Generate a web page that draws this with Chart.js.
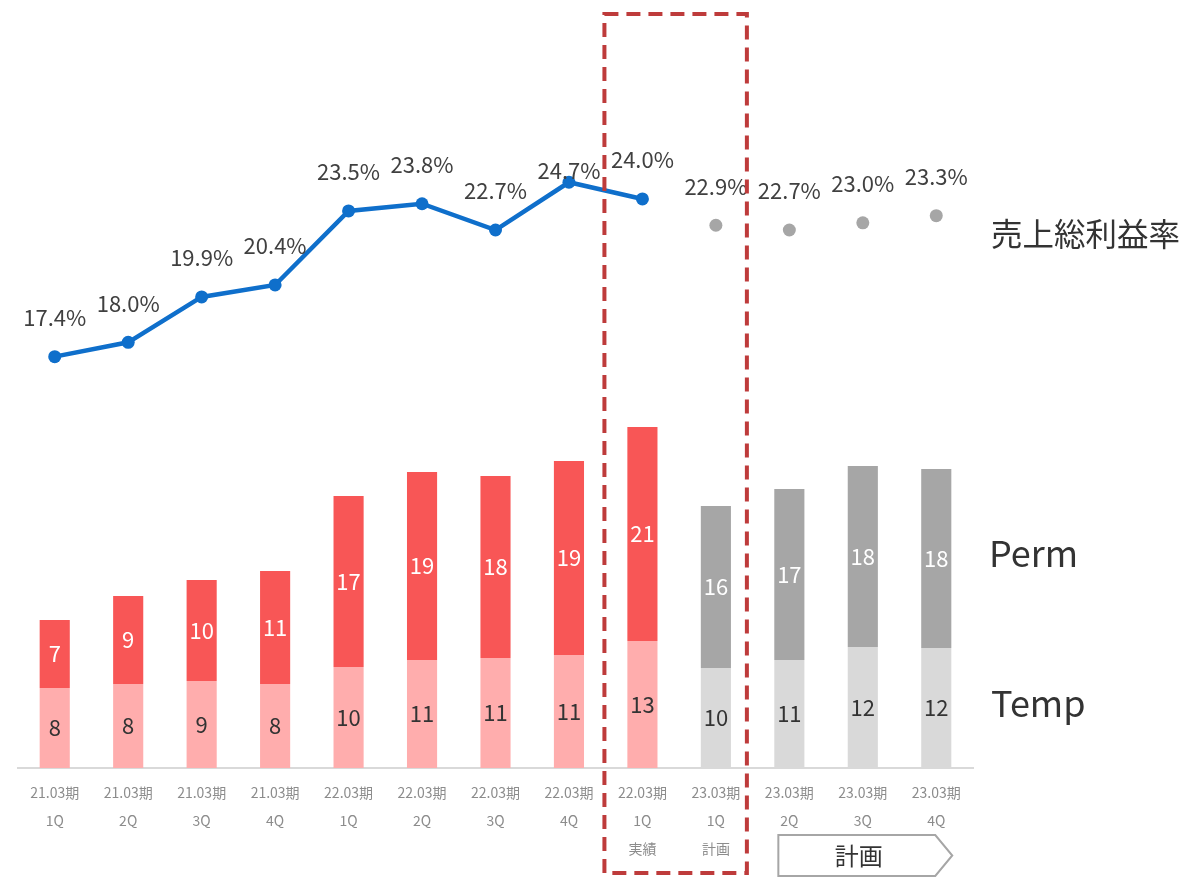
<!DOCTYPE html>
<html>
<head>
<meta charset="utf-8">
<script src="https://cdn.jsdelivr.net/npm/chart.js@4.4.1/dist/chart.umd.min.js"></script>
<style>
  html, body { margin: 0; padding: 0; background: #fff; }
  #wrap { width: 1184px; height: 885px; position: relative; }
</style>
</head>
<body>
<div id="wrap"><canvas id="chart"></canvas></div>
<script>
const periods = ['21.03期', '21.03期', '21.03期', '21.03期', '22.03期', '22.03期', '22.03期', '22.03期', '22.03期', '23.03期', '23.03期', '23.03期', '23.03期'];
const quarters = ['1Q', '2Q', '3Q', '4Q', '1Q', '2Q', '3Q', '4Q', '1Q', '1Q', '2Q', '3Q', '4Q'];
const notes = ['', '', '', '', '', '', '', '', '実績', '計画', '', '', ''];
const tempValues = [8.0, 8.4, 8.7, 8.4, 10.1, 10.8, 11.0, 11.3, 12.7, 10.0, 10.8, 12.1, 12.0];
const permValues = [6.8, 8.8, 10.1, 11.3, 17.1, 18.8, 18.2, 19.4, 21.4, 16.2, 17.1, 18.1, 17.9];
const rateActual = [17.4, 18.0, 19.9, 20.4, 23.5, 23.8, 22.7, 24.7, 24.0];
const ratePlan = [22.9, 22.7, 23.0, 23.3];

const nActual = rateActual.length;
const FONT = '"Noto Sans CJK JP", "Noto Sans", sans-serif';

const labels = periods.map((p, i) => [p, quarters[i], notes[i]].filter(s => s));
const isPlan = i => i >= nActual;

const tempColors = tempValues.map((v, i) => isPlan(i) ? '#D9D9D9' : '#FFADAD');
const permColors = permValues.map((v, i) => isPlan(i) ? '#A6A6A6' : '#F85656');

const rateActualData = labels.map((l, i) => i < nActual ? rateActual[i] : null);
const ratePlanData = labels.map((l, i) => i >= nActual ? ratePlan[i - nActual] : null);

// draws value labels, side captions, the dashed box and the plan arrow
const decorPlugin = {
    id: 'decor',
    afterDatasetsDraw(chart) {
        const ctx = chart.ctx;
        ctx.save();
        ctx.textAlign = 'center';
        ctx.textBaseline = 'middle';

        // bar segment labels
        [0, 1].forEach(di => {
            const meta = chart.getDatasetMeta(di);
            const vals = di === 0 ? tempValues : permValues;
            meta.data.forEach((bar, i) => {
                const mid = (bar.y + bar.base) / 2;
                ctx.font = '22px ' + FONT;
                if (di === 0) ctx.fillStyle = '#333333';
                else ctx.fillStyle = '#ffffff';
                ctx.fillText(Math.round(vals[i]), bar.x, mid);
            });
        });

        // rate labels
        ctx.font = '22px ' + FONT;
        ctx.fillStyle = '#404040';
        [2, 3].forEach(di => {
            const meta = chart.getDatasetMeta(di);
            const ds = chart.data.datasets[di].data;
            meta.data.forEach((pt, i) => {
                if (ds[i] == null) return;
                const off = i === 7 ? 12 : 39;
                ctx.fillText(ds[i].toFixed(1) + '%', pt.x, pt.y - off);
            });
        });

        // captions on the right
        ctx.textAlign = 'left';
        ctx.fillStyle = '#333333';
        ctx.font = '31.5px ' + FONT;
        ctx.fillText('売上総利益率', 991, 234);
        ctx.font = '36px ' + FONT;
        ctx.fillText('Perm', 989, 553);
        ctx.fillText('Temp', 991, 703);
        ctx.restore();
    },
    afterDraw(chart) {
        const ctx = chart.ctx;
        const x = chart.scales.x;
        ctx.save();

        // plan arrow
        const ax0 = x.getPixelForValue(nActual + 1) - 11;
        const ax1 = x.getPixelForValue(labels.length - 1) - 1;
        ctx.beginPath();
        ctx.moveTo(ax0, 835);
        ctx.lineTo(ax1, 835);
        ctx.lineTo(ax1 + 17, 855.5);
        ctx.lineTo(ax1, 876);
        ctx.lineTo(ax0, 876);
        ctx.closePath();
        ctx.strokeStyle = '#A6A6A6';
        ctx.lineWidth = 2;
        ctx.stroke();
        ctx.fillStyle = '#333333';
        ctx.font = '24px ' + FONT;
        ctx.textAlign = 'center';
        ctx.textBaseline = 'middle';
        ctx.fillText('計画', (ax0 + ax1) / 2 + 2, 856);

        // dashed box round the current quarter and its plan
        const bx0 = x.getPixelForValue(nActual - 1) - 38;
        const bx1 = x.getPixelForValue(nActual) + 31;
        ctx.setLineDash([14, 8]);
        ctx.lineWidth = 4;
        ctx.strokeStyle = '#BE3B3B';
        ctx.strokeRect(bx0, 14, bx1 - bx0, 859);
        ctx.restore();
    }
};

new Chart(document.getElementById('chart'), {
    type: 'bar',
    data: {
        labels: labels,
        datasets: [
            {
                label: 'Temp',
                data: tempValues,
                backgroundColor: tempColors,
                barPercentage: 0.41,
                categoryPercentage: 1,
                yAxisID: 'y',
                order: 2
            },
            {
                label: 'Perm',
                data: permValues,
                backgroundColor: permColors,
                barPercentage: 0.41,
                categoryPercentage: 1,
                yAxisID: 'y',
                order: 2
            },
            {
                type: 'line',
                label: '売上総利益率',
                data: rateActualData,
                borderColor: '#0F6FCB',
                backgroundColor: '#0F6FCB',
                borderWidth: 4.5,
                pointRadius: 6.5,
                pointBorderWidth: 0,
                yAxisID: 'y2',
                order: 1
            },
            {
                type: 'line',
                label: '売上総利益率（計画）',
                data: ratePlanData,
                showLine: false,
                borderColor: '#A6A6A6',
                backgroundColor: '#A6A6A6',
                pointRadius: 6.5,
                pointBorderWidth: 0,
                yAxisID: 'y2',
                order: 1
            }
        ]
    },
    options: {
        responsive: true,
        maintainAspectRatio: false,
        animation: false,
        layout: { padding: { left: 18, right: 211, top: 10, bottom: 0 } },
        plugins: {
            legend: { display: false },
            tooltip: { enabled: false }
        },
        scales: {
            x: {
                stacked: true,
                grid: { display: false, drawTicks: false },
                border: { display: true, color: '#D9D9D9', width: 2 },
                ticks: {
                    color: '#8C8C8C',
                    font: { family: FONT, size: 14, lineHeight: 2 },
                    padding: 11,
                    maxRotation: 0,
                    autoSkip: false
                },
                afterFit(scale) { scale.height = 117; }
            },
            y: {
                stacked: true,
                display: false,
                min: 0,
                max: 75.8
            },
            y2: {
                display: false,
                min: 0.18,
                max: 31.91
            }
        }
    },
    plugins: [decorPlugin]
});
</script>
</body>
</html>
